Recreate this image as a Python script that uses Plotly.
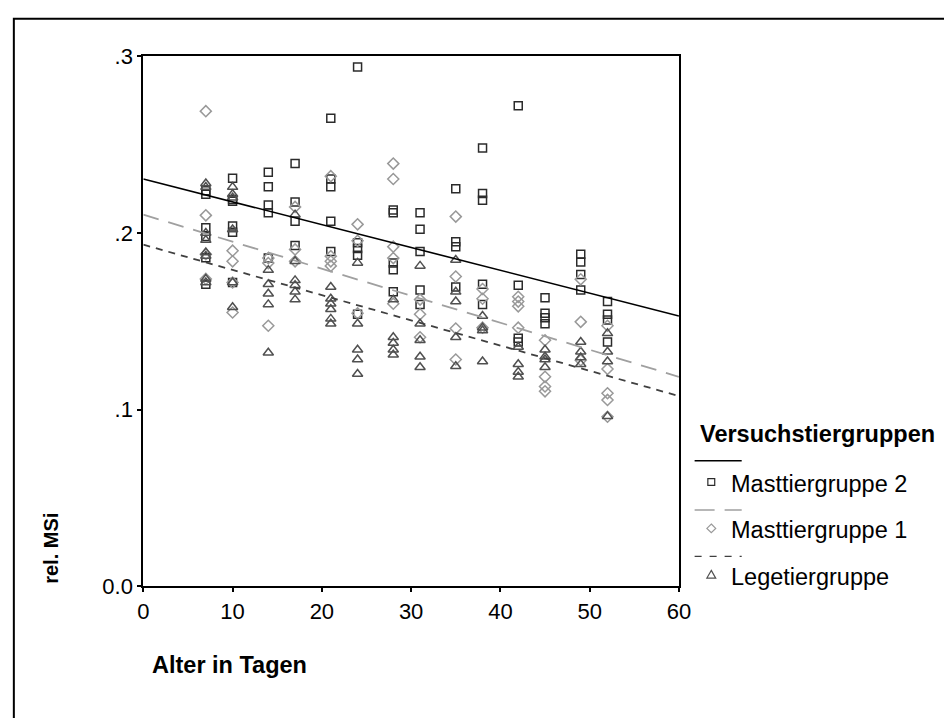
import numpy as np
import plotly.graph_objects as go

# ---- data -------------------------------------------------------------
days = [7, 10, 14, 17, 21, 24, 28, 31, 35, 38, 42, 45, 49, 52]

mast2 = {
    7: [0.224, 0.222, 0.203, 0.198, 0.186, 0.171],
    10: [0.231, 0.219, 0.218, 0.204, 0.2005, 0.172],
    14: [0.2344, 0.2262, 0.2158, 0.2115, 0.1858],
    17: [0.2393, 0.2175, 0.2066, 0.193],
    21: [0.265, 0.2306, 0.2262, 0.2066, 0.1896],
    24: [0.294, 0.1945, 0.1913, 0.1874, 0.154],
    28: [0.2131, 0.2115, 0.1831, 0.1792, 0.1667],
    31: [0.2115, 0.2022, 0.1896, 0.1678, 0.1596],
    35: [0.2251, 0.195, 0.1923, 0.1694],
    38: [0.2481, 0.2224, 0.2186, 0.171, 0.1596],
    42: [0.2721, 0.1705, 0.1404, 0.1383],
    45: [0.1634, 0.1546, 0.152, 0.1486],
    49: [0.188, 0.1836, 0.1765, 0.1678],
    52: [0.1612, 0.154, 0.1508, 0.1383],
}

mast1 = {
    7: [0.269, 0.210, 0.188, 0.174],
    10: [0.190, 0.184, 0.172, 0.155],
    14: [0.1858, 0.183, 0.1475],
    17: [0.2148, 0.1907, 0.184],
    21: [0.2322, 0.1869, 0.184, 0.1814],
    24: [0.2049, 0.1956, 0.1546],
    28: [0.2393, 0.2306, 0.1923, 0.1858, 0.160],
    31: [0.1623, 0.154, 0.141],
    35: [0.2093, 0.1754, 0.1459, 0.1284],
    38: [0.1683, 0.1628, 0.1464],
    42: [0.1639, 0.1612, 0.1585, 0.1464],
    45: [0.1393, 0.1186, 0.1131, 0.1104],
    49: [0.1738, 0.1497, 0.128],
    52: [0.1475, 0.123, 0.1093, 0.1055, 0.096],
}

lege = {
    7: [0.228, 0.226, 0.200, 0.196, 0.189, 0.187, 0.174, 0.172],
    10: [0.226, 0.222, 0.220, 0.202, 0.172, 0.158],
    14: [0.179, 0.171, 0.1656, 0.1596, 0.1322],
    17: [0.2104, 0.184, 0.1732, 0.1705, 0.1667, 0.1623],
    21: [0.1694, 0.1628, 0.160, 0.1568, 0.1514, 0.1486],
    24: [0.1831, 0.1486, 0.1339, 0.1284, 0.1202],
    28: [0.1623, 0.141, 0.1377, 0.1339, 0.1311],
    31: [0.1814, 0.1486, 0.1393, 0.130, 0.124],
    35: [0.1847, 0.1667, 0.1612, 0.141, 0.1246],
    38: [0.153, 0.1464, 0.1448, 0.1273],
    42: [0.1355, 0.1257, 0.1213, 0.1186],
    45: [0.1339, 0.130, 0.1284, 0.124],
    49: [0.1383, 0.1328, 0.1295, 0.1257],
    52: [0.1432, 0.1328, 0.1273, 0.0962],
}

group_names = ["Masttiergruppe 2", "Masttiergruppe 1", "Legetiergruppe"]
fit_intercept = [0.2306, 0.2104, 0.1934]
fit_slope = [-0.001293, -0.00153, -0.001428]

x_ticks = [0, 10, 20, 30, 40, 50, 60]
y_ticks = [0.0, 0.1, 0.2, 0.3]
y_ticktext = ["0.0", ".1", ".2", ".3"]

# ---- layout constants (page pixels) -----------------------------------
W, H = 944, 718
FONT = "Arial, Liberation Sans, Helvetica, sans-serif"
PLOT_L, PLOT_R, PLOT_T, PLOT_B = 140, 686, 46, 595
X_RANGE = [0, 60]
Y_RANGE = [0, 0.3]

styles = [
    dict(symbol="square-open", size=8, color="#2b2b2b",
         line_color="#000000", dash="solid", line_w=1.6),
    dict(symbol="diamond-open", size=8.5, color="#999999",
         line_color="#a0a0a0", dash="16px,10px", line_w=1.8),
    dict(symbol="triangle-up-open", size=9, color="#505050",
         line_color="#404040", dash="7px,6px", line_w=1.8),
]


def px(x):
    return x / W


def py(y):
    return 1 - y / H


fig = go.Figure()

groups = [mast2, mast1, lege]
for g, st in zip(groups, styles):
    xs, ys = [], []
    for d in days:
        for v in g.get(d, []):
            xs.append(d)
            ys.append(v)
    fig.add_trace(go.Scatter(
        x=xs, y=ys, mode="markers", showlegend=False, hoverinfo="skip",
        marker=dict(symbol=st["symbol"], size=st["size"], color=st["color"],
                    line=dict(width=1.5, color=st["color"])),
    ))

# regression lines across the full x range
xfit = np.array(X_RANGE, dtype=float)
for a, b, st in zip(fit_intercept, fit_slope, styles):
    fig.add_trace(go.Scatter(
        x=xfit, y=a + b * xfit, mode="lines", showlegend=False,
        hoverinfo="skip",
        line=dict(color=st["line_color"], width=st["line_w"], dash=st["dash"]),
    ))


# ---- hand-made legend --------------------------------------------------
def path_of(points):
    return "M " + " L ".join(f"{px(x):.5f},{py(y):.5f}" for x, y in points) + " Z"


def key_symbol(kind, cx, cy):
    if kind == "square":
        h = 3.5
        return path_of([(cx - h, cy - h), (cx + h, cy - h), (cx + h, cy + h), (cx - h, cy + h)])
    if kind == "diamond":
        h = 4.5
        return path_of([(cx, cy - h), (cx + h, cy), (cx, cy + h), (cx - h, cy)])
    return path_of([(cx, cy - 4.5), (cx + 4.5, cy + 3.5), (cx - 4.5, cy + 3.5)])


leg_kinds = ["square", "diamond", "triangle"]
leg_marker_x = 719
leg_marker_y = [487, 535, 583]
leg_line_y = [465, 516, 564]
leg_dash = ["solid", "20px,10px", "7px,8px"]

shapes = [
    dict(type="rect", xref="paper", yref="paper",
         x0=px(8), y0=py(7), x1=px(W + 20), y1=py(H + 20),
         line=dict(color="#000", width=2), fillcolor="rgba(0,0,0,0)"),
]
for i, st in enumerate(styles):
    shapes.append(dict(
        type="line", xref="paper", yref="paper",
        x0=px(702), x1=px(750), y0=py(leg_line_y[i]), y1=py(leg_line_y[i]),
        line=dict(color=st["line_color"], width=1.4, dash=leg_dash[i])))
    shapes.append(dict(
        type="path", xref="paper", yref="paper",
        path=key_symbol(leg_kinds[i], leg_marker_x, leg_marker_y[i]),
        line=dict(color=st["color"], width=1.2), fillcolor="rgba(0,0,0,0)"))

annotations = [
    dict(text="<b>Versuchstiergruppen</b>", x=px(705), y=py(437),
         xref="paper", yref="paper",
         xanchor="left", yanchor="middle", showarrow=False,
         font=dict(family=FONT, size=23.5, color="#000")),
    dict(text="<b>Alter in Tagen</b>", x=px(147), y=py(677),
         xref="paper", yref="paper",
         xanchor="left", yanchor="middle", showarrow=False,
         font=dict(family=FONT, size=23.5, color="#000")),
    dict(text="<b>rel. MSi</b>", x=px(45), y=py(556), textangle=-90,
         xref="paper", yref="paper",
         xanchor="center", yanchor="middle", showarrow=False,
         font=dict(family=FONT, size=20, color="#000")),
]
for name, yy in zip(group_names, leg_marker_y):
    annotations.append(dict(
        text=name, x=px(737), y=py(yy + 2), xref="paper", yref="paper",
        xanchor="left", yanchor="middle",
        showarrow=False, font=dict(family=FONT, size=23.5, color="#000")))

axis_common = dict(
    showgrid=False, zeroline=False, showline=True, mirror=True,
    linecolor="#000", linewidth=2, ticks="outside", ticklen=4, tickwidth=2,
    tickcolor="#000", tickfont=dict(family=FONT, size=22, color="#000"),
)

fig.update_layout(
    width=W, height=H, margin=dict(l=0, r=0, t=0, b=0, pad=0),
    autosize=False,
    paper_bgcolor="white", plot_bgcolor="white",
    xaxis=dict(domain=[px(PLOT_L), px(PLOT_R)], range=X_RANGE,
               tickvals=x_ticks, **axis_common),
    yaxis=dict(domain=[py(PLOT_B), py(PLOT_T)], range=Y_RANGE,
               tickvals=y_ticks, ticktext=y_ticktext, **axis_common),
    annotations=annotations,
    shapes=shapes,
)

# figure fills the page edge to edge
fig.write_html(
    "out.html",
    post_script="document.body.style.margin='0';document.body.style.overflow='hidden';",
)
